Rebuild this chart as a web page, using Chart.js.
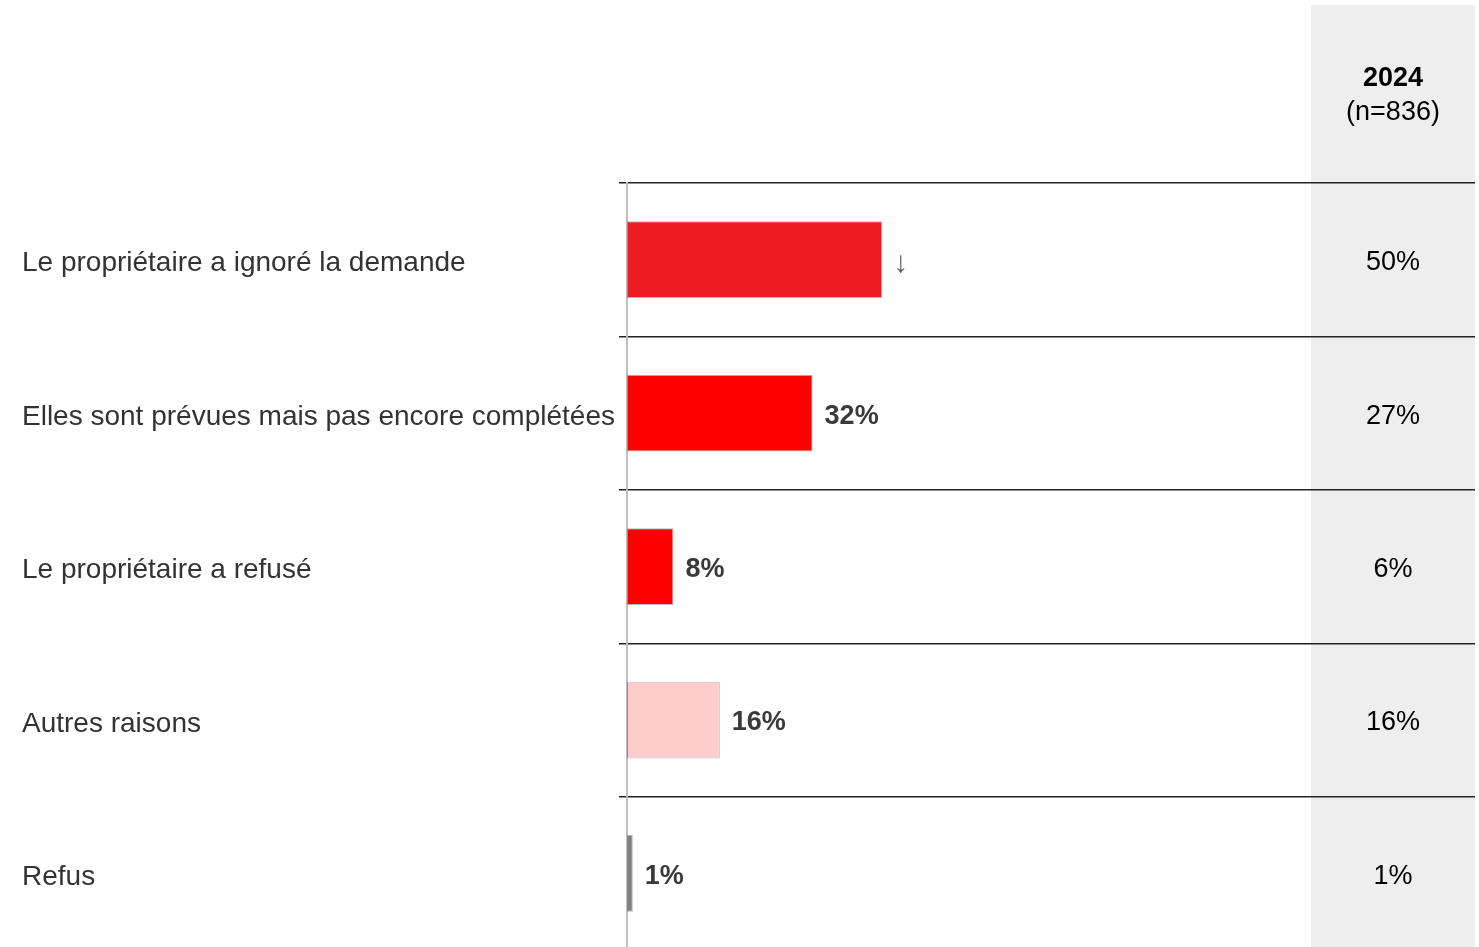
<!DOCTYPE html>
<html>
<head>
<meta charset="utf-8">
<script src="https://cdn.jsdelivr.net/npm/chart.js@4"></script>
<style>
    html, body { margin: 0; padding: 0; background: #fff; overflow: hidden; }
    #wrap { width: 1479px; height: 970px; }
</style>
</head>
<body>
<div id="wrap"><canvas id="chart"></canvas></div>
<script>
const categories = [
    'Le propriétaire a ignoré la demande',
    'Elles sont prévues mais pas encore complétées',
    'Le propriétaire a refusé',
    'Autres raisons',
    'Refus'
]
const values = [44, 32, 8, 16, 1]
const barLabels = ['', '32%', '8%', '16%', '1%']
const trendMarks = ['↓', '', '', '', '']
const barColors = ['#ec1c24', '#ff0000', '#ff0000', '#ffcccc', '#808080']
const previousHeader = '2024'
const previousSample = '(n=836)'
const previousValues = ['50%', '27%', '6%', '16%', '1%']

const FONT = '"Liberation Sans", Arial, sans-serif'

// grey column with the previous wave, drawn under the grid
const sideColumn = {
    id: 'sideColumn',
    beforeDraw: function (chart) {
        const ctx = chart.ctx
        const y = chart.scales.y
        ctx.save()
        ctx.fillStyle = '#eeeeee'
        ctx.fillRect(1311, 5, 164, chart.height - 5)
        ctx.textAlign = 'center'
        ctx.textBaseline = 'middle'
        ctx.fillStyle = '#000'
        ctx.font = 'bold 27px ' + FONT
        ctx.fillText(previousHeader, 1393, 79)
        ctx.font = '27px ' + FONT
        ctx.fillText(previousSample, 1393, 113)
        previousValues.forEach(function (v, i) {
            ctx.fillText(v, 1393, y.getPixelForValue(i) + 3)
        })
        ctx.restore()
    }
}

// value labels and trend arrows next to the bars
const barValues = {
    id: 'barValues',
    afterDatasetsDraw: function (chart) {
        const ctx = chart.ctx
        const meta = chart.getDatasetMeta(0)
        ctx.save()
        ctx.textBaseline = 'middle'
        ctx.textAlign = 'left'
        meta.data.forEach(function (bar, i) {
            if (barLabels[i]) {
                ctx.font = 'bold 27px ' + FONT
                ctx.fillStyle = '#3a3a3a'
                ctx.fillText(barLabels[i], bar.x + 12, bar.y + 3)
            }
            if (trendMarks[i]) {
                ctx.font = '30px ' + FONT
                ctx.fillStyle = '#666'
                ctx.fillText(trendMarks[i], bar.x + 11, bar.y + 4)
            }
        })
        ctx.restore()
    }
}

new Chart(document.getElementById('chart'), {
    type: 'bar',
    data: {
        labels: categories,
        datasets: [{
            data: values,
            backgroundColor: barColors,
            borderColor: 'rgba(0, 0, 0, 0.28)',
            borderWidth: 1,
            borderSkipped: false,
            barPercentage: 0.5,
            categoryPercentage: 1
        }]
    },
    options: {
        indexAxis: 'y',
        responsive: true,
        maintainAspectRatio: false,
        animation: false,
        layout: { padding: { top: 183, left: 22, right: 4, bottom: 0 } },
        plugins: {
            legend: { display: false },
            tooltip: { enabled: false }
        },
        scales: {
            x: {
                display: false,
                min: 0,
                max: 146.2
            },
            y: {
                afterFit: function (scale) { scale.width = 605 },
                border: { display: true, color: '#c0c0c0', width: 2 },
                grid: {
                    offset: true,
                    color: '#222',
                    lineWidth: 1.5,
                    drawTicks: true,
                    tickLength: 8
                },
                ticks: {
                    crossAlign: 'far',
                    labelOffset: 4,
                    color: '#333',
                    font: { family: FONT, size: 28 }
                }
            }
        }
    },
    plugins: [sideColumn, barValues]
})
</script>
</body>
</html>
